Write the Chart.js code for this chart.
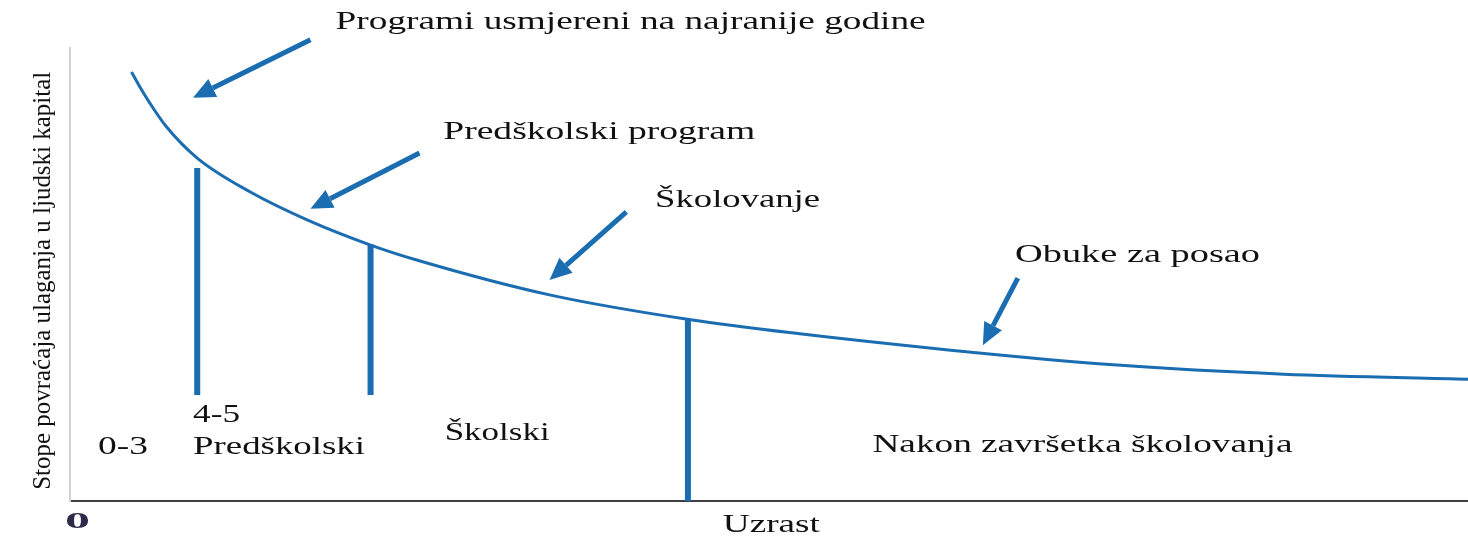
<!DOCTYPE html>
<html>
<head>
<meta charset="utf-8">
<script src="https://cdn.jsdelivr.net/npm/chart.js@4.4.1/dist/chart.umd.min.js"></script>
<style>
  html, body { margin: 0; padding: 0; background: #fff; }
  #wrap { width: 1468px; height: 536px; position: relative; }
</style>
</head>
<body>
<div id="wrap"><canvas id="myChart"></canvas></div>
<script>
// return curve (age on x, rate of return on y, both 0..100 units)
const curveX = [4.4, 5.0, 5.7, 6.9, 9.1, 12.9, 17.0, 21.5, 24.8, 34.3, 44.4, 52.2, 63.0, 74.9, 86.8, 100];
const curveY = [94.7, 91.4, 87.9, 82.6, 75.7, 68.2, 62.0, 56.5, 53.2, 45.5, 40.0, 36.9, 33.3, 30.0, 28.0, 26.9];

// stage dividers
const dividerX = [9.1, 21.5, 44.2];
const dividerTop = [73.5, 56.7, 40.0];
const dividerBottom = [23.4, 23.4, 0];

// arrows pointing at the curve [x, y]
const arrowFrom = [[17.2, 101.8], [25.0, 76.8], [39.8, 63.8], [67.8, 49.2]];
const arrowTo = [[8.8, 89.0], [17.2, 64.5], [34.3, 48.8], [65.3, 34.4]];

const programLabels = ['Programi usmjereni na najranije godine', 'Predškolski program', 'Školovanje', 'Obuke za posao'];
const stageLabels = ['0-3', '4-5', 'Predškolski', 'Školski', 'Nakon završetka školovanja'];
const xTitle = 'Uzrast';
const yTitle = 'Stope povraćaja ulaganja u ljudski kapital';
const originLabel = '0';

const blue = '#1b6db1';
const serif = '"Liberation Serif", "DejaVu Serif", serif';

// where the texts sit: x (left edge), y (middle) in axis units, w = width in px
const programPos = [
  { x: 19.0, y: 105.7, w: 590 },
  { x: 26.7, y: 81.5, w: 312 },
  { x: 41.85, y: 66.4, w: 165 },
  { x: 67.6, y: 54.3, w: 245 }
];
const stagePos = [
  { x: 2.0, y: 11.9, w: 50 },
  { x: 8.8, y: 19.0, w: 47 },
  { x: 8.8, y: 11.9, w: 172 },
  { x: 26.8, y: 15.0, w: 105 },
  { x: 57.4, y: 12.4, w: 420 }
];

const datasets = [{
  data: curveX.map((x, i) => ({ x: x, y: curveY[i] })),
  borderColor: blue,
  borderWidth: 3,
  pointRadius: 0,
  cubicInterpolationMode: 'monotone',
  fill: false
}];
dividerX.forEach((x, i) => {
  datasets.push({
    data: [{ x: x, y: dividerBottom[i] }, { x: x, y: dividerTop[i] }],
    borderColor: blue,
    borderWidth: 6,
    pointRadius: 0,
    borderCapStyle: 'butt',
    fill: false
  });
});

function stretchText(ctx, text, px, py, w, size, bold, sy) {
  ctx.save();
  ctx.font = (bold ? 'bold ' : '') + size + 'px ' + serif;
  const w0 = ctx.measureText(text).width;
  ctx.translate(px, py);
  ctx.scale(w / w0, sy || 1);
  ctx.textAlign = 'left';
  ctx.textBaseline = 'middle';
  ctx.fillText(text, 0, 0);
  ctx.restore();
}

const annotations = {
  id: 'annotations',
  afterDraw(chart) {
    const ctx = chart.ctx;
    const xs = chart.scales.x, ys = chart.scales.y;

    // arrows
    ctx.save();
    ctx.strokeStyle = blue;
    ctx.fillStyle = blue;
    ctx.lineWidth = 5;
    arrowFrom.forEach((f, i) => {
      const x1 = xs.getPixelForValue(f[0]), y1 = ys.getPixelForValue(f[1]);
      const x2 = xs.getPixelForValue(arrowTo[i][0]), y2 = ys.getPixelForValue(arrowTo[i][1]);
      const ang = Math.atan2(y2 - y1, x2 - x1);
      const headLen = 22, headW = 10;
      const bx = x2 - headLen * Math.cos(ang), by = y2 - headLen * Math.sin(ang);
      ctx.beginPath();
      ctx.moveTo(x1, y1);
      ctx.lineTo(bx, by);
      ctx.stroke();
      ctx.beginPath();
      ctx.moveTo(x2, y2);
      ctx.lineTo(bx + headW * Math.sin(ang), by - headW * Math.cos(ang));
      ctx.lineTo(bx - headW * Math.sin(ang), by + headW * Math.cos(ang));
      ctx.closePath();
      ctx.fill();
    });
    ctx.restore();

    ctx.save();
    ctx.fillStyle = '#111';
    programLabels.forEach((t, i) => {
      const p = programPos[i];
      stretchText(ctx, t, xs.getPixelForValue(p.x), ys.getPixelForValue(p.y), p.w, 26);
    });
    stageLabels.forEach((t, i) => {
      const p = stagePos[i];
      stretchText(ctx, t, xs.getPixelForValue(p.x), ys.getPixelForValue(p.y), p.w, 26);
    });

    // axis titles
    stretchText(ctx, xTitle, xs.getPixelForValue(46.7), ys.getPixelForValue(-5.3), 97, 26);
    ctx.fillStyle = '#2d2a4a';
    stretchText(ctx, originLabel, xs.getPixelForValue(-0.35), ys.getPixelForValue(-4.6), 25, 24, true);

    ctx.fillStyle = '#111';
    ctx.translate(xs.getPixelForValue(-1.93), ys.getPixelForValue(48.6));
    ctx.rotate(-Math.PI / 2);
    stretchText(ctx, yTitle, -209, 0, 418, 20, false, 1.3);
    ctx.restore();
  }
};

new Chart('myChart', {
  type: 'line',
  data: { datasets: datasets },
  options: {
    responsive: true,
    maintainAspectRatio: false,
    animation: false,
    events: [],
    layout: { padding: { left: 70, top: 48, right: 0, bottom: 35 } },
    plugins: { legend: { display: false }, tooltip: { enabled: false } },
    scales: {
      x: {
        type: 'linear', min: 0, max: 100,
        ticks: { display: false },
        grid: { display: false, drawTicks: false },
        border: { display: true, color: '#3f3f3f', width: 2 }
      },
      y: {
        type: 'linear', min: 0, max: 100,
        ticks: { display: false },
        grid: { display: false, drawTicks: false },
        border: { display: true, color: '#d4d4d4', width: 2 }
      }
    }
  },
  plugins: [annotations]
});
</script>
</body>
</html>
